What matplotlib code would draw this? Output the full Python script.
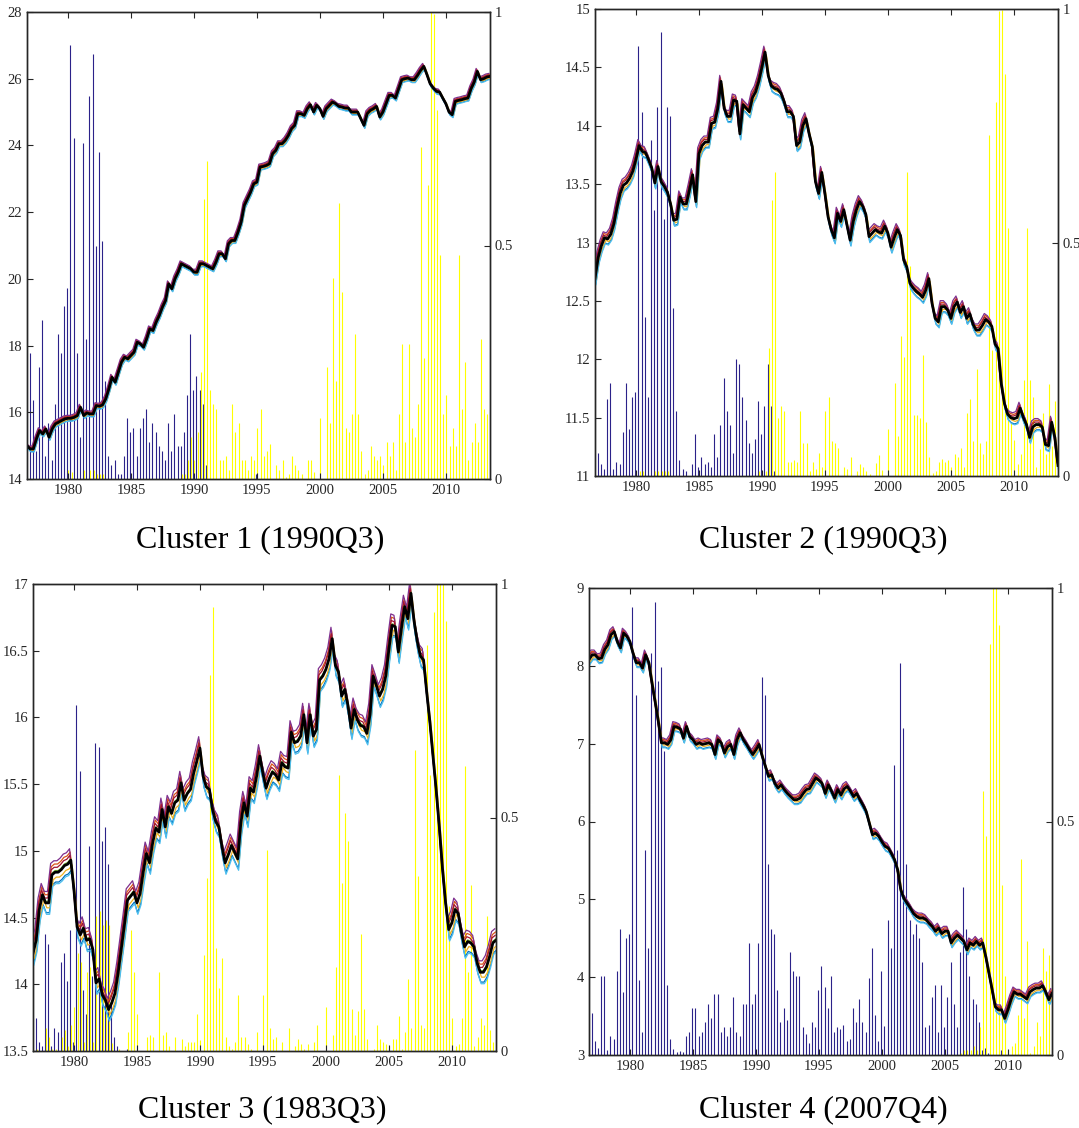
import numpy as np
import matplotlib
matplotlib.use("Agg")
import matplotlib.pyplot as plt

# quarterly dates, 1976Q4 .. 2013Q3 (148 quarters)
quarters = np.arange(1976.75, 2013.51, 0.25)

titles = ["Cluster 1 (1990Q3)", "Cluster 2 (1990Q3)", "Cluster 3 (1983Q3)", "Cluster 4 (2007Q4)"]

line1 = [15.0, 14.9, 14.9, 15.2, 15.45, 15.35, 15.5, 15.25, 15.5, 15.65, 15.7, 15.75, 15.8, 15.82, 15.82, 15.85,
         15.9, 16.15, 15.9, 15.98, 15.95, 15.95, 16.2, 16.18, 16.22, 16.4, 16.7, 17.05, 16.9, 17.2, 17.5, 17.65,
         17.6, 17.7, 17.8, 18.1, 18.05, 17.95, 18.2, 18.5, 18.45, 18.7, 18.9, 19.15, 19.35, 19.85, 19.7, 20.0,
         20.2, 20.45, 20.4, 20.35, 20.3, 20.2, 20.2, 20.45, 20.45, 20.4, 20.35, 20.3, 20.5, 20.75, 20.75, 20.6,
         21.05, 21.15, 21.15, 21.4, 21.7, 22.2, 22.4, 22.6, 22.85, 22.9, 23.35, 23.37, 23.4, 23.45, 23.75, 23.85,
         24.05, 24.05, 24.15, 24.3, 24.5, 24.6, 24.95, 24.95, 24.9, 25.1, 25.22, 25.0, 25.2, 25.1, 24.87, 25.1,
         25.2, 25.3, 25.25, 25.17, 25.15, 25.12, 25.12, 25.0, 25.0, 25.0, 24.8, 24.6, 24.95, 25.05, 25.1, 25.17,
         24.85, 25.0, 25.25, 25.5, 25.5, 25.42, 25.7, 25.97, 26.0, 26.02, 25.97, 25.97, 26.1, 26.25, 26.37, 26.12,
         25.85, 25.72, 25.62, 25.6, 25.42, 25.25, 25.0, 24.92, 25.32, 25.35, 25.37, 25.4, 25.42, 25.7, 25.9, 26.22,
         25.97, 26.0, 26.05, 26.07]
blue1 = [0, .27, .17, .06, .24, .34, .05, .12, .04, .16, .31, .27, .37, .41, .93, .73,
         .27, .09, .72, .30, .82, .91, .50, .70, .51, .21, .05, .03, .04, .01, .01, .05,
         .13, .10, .11, .05, .11, .13, .15, .08, .12, .10, .07, .06, .04, .12, .06, .14,
         .07, .07, .10, .18, .31, .19, .22, .19, .16, .03, 0, 0, 0, 0, 0, 0,
         0, 0, 0, 0, 0, 0, 0, 0, 0, .01, 0, 0, 0, 0, 0, 0,
         0, 0, 0, 0, 0, 0, 0, 0, 0, 0, 0, 0, 0, 0, 0, 0,
         0, 0, 0, 0, 0, 0, 0, 0, 0, 0, 0, 0, 0, 0, 0, 0,
         0, 0, 0, 0, 0, 0, 0, 0, 0, 0, 0, 0, 0, 0, 0, 0,
         0, 0, 0, 0, 0, 0, 0, 0, 0, 0, 0, 0, 0, 0, 0, 0,
         0, 0, 0, 0]
yellow1 = [0, 0, 0, 0, 0, 0, 0, 0, 0, 0, 0, 0, 0, .02, .015, 0,
           0, 0, .02, 0, .02, .02, .01, .01, .01, 0, 0, 0, 0, 0, 0, 0,
           0, 0, 0, 0, 0, 0, 0, 0, 0, 0, 0, 0, 0, 0, 0, 0,
           0, .01, .01, .04, .09, .04, .10, .23, .60, .68, .19, .16, .15, .04, .04, .05,
           .02, .16, .10, .12, .04, .04, .02, .05, .04, .11, .15, .05, .06, .075, 0, .03,
           .02, .04, .005, .01, .05, .03, .02, .01, 0, .04, .04, .015, 0, .13, 0, .24,
           .12, .43, .21, .59, .40, .11, .10, .14, .31, .14, .06, .01, .02, .07, .05, .04,
           .05, .03, .08, .05, .08, .02, .14, .29, .08, .29, .11, .09, .16, .71, .26, .63,
           1.0, .995, .79, .48, .14, .18, .07, .11, .07, .48, .15, .25, .04, .08, .12, .08,
           .30, .15, .14, 0]

line2 = [12.69, 12.87, 12.97, 13.04, 13.03, 13.07, 13.16, 13.30, 13.42, 13.49, 13.51, 13.55, 13.61, 13.71, 13.83, 13.78,
         13.77, 13.71, 13.64, 13.51, 13.65, 13.52, 13.48, 13.43, 13.33, 13.19, 13.20, 13.39, 13.33, 13.33, 13.45, 13.58,
         13.35, 13.76, 13.83, 13.86, 13.86, 14.02, 14.03, 14.15, 14.38, 14.15, 14.08, 14.08, 14.22, 14.21, 13.93, 14.18,
         14.15, 14.12, 14.24, 14.29, 14.38, 14.50, 14.63, 14.43, 14.34, 14.32, 14.31, 14.28, 14.21, 14.12, 14.12, 14.08,
         13.83, 13.86, 14.00, 14.06, 13.93, 13.82, 13.52, 13.42, 13.60, 13.42, 13.22, 13.11, 13.04, 13.25, 13.18, 13.28,
         13.15, 13.02, 13.18, 13.28, 13.35, 13.31, 13.24, 13.05, 13.08, 13.11, 13.09, 13.08, 13.14, 13.08, 12.96, 13.04,
         13.11, 13.06, 12.85, 12.79, 12.65, 12.61, 12.58, 12.56, 12.53, 12.59, 12.69, 12.48, 12.35, 12.32, 12.45, 12.45,
         12.42, 12.35, 12.45, 12.49, 12.40, 12.45, 12.35, 12.39, 12.30, 12.25, 12.25, 12.29, 12.34, 12.32, 12.28, 12.13,
         12.09, 11.79, 11.62, 11.53, 11.50, 11.49, 11.50, 11.58, 11.50, 11.44, 11.33, 11.42, 11.44, 11.44, 11.42, 11.27,
         11.26, 11.46, 11.33, 11.09]
blue2 = [0, .05, .025, .015, .165, .20, .015, .03, .025, .095, .20, .10, .17, .18, .92, .78,
         .34, .17, .72, .57, .79, .95, .55, .79, .77, .36, .14, .035, .015, .01, 0, .025,
         .09, .02, .04, .025, .03, .02, .09, .04, .11, .21, .14, .11, .05, .25, .24, .17,
         .12, .07, .05, .08, .16, .09, .15, .24, .15, .01, 0, 0, 0, 0, 0, 0,
         0, 0, 0, 0, 0, 0, 0, 0, 0, 0, 0, 0, 0, 0, 0, 0,
         0, 0, 0, 0, 0, 0, 0, 0, 0, 0, 0, 0, 0, 0, 0, 0,
         0, 0, 0, 0, 0, 0, 0, 0, 0, 0, 0, 0, 0, 0, 0, 0,
         0, 0, 0, 0, 0, 0, 0, 0, 0, 0, 0, 0, 0, 0, 0, 0,
         0, 0, 0, 0, 0, 0, 0, 0, 0, 0, 0, 0, 0, 0, 0, 0,
         0, 0, 0, 0]
yellow2 = [0, 0, 0, 0, 0, 0, 0, 0, 0, 0, 0, 0, 0, .01, .01, .01,
           0, 0, 0, .01, .01, .01, .01, .01, 0, 0, 0, 0, 0, 0, 0, 0,
           0, 0, 0, 0, 0, 0, 0, 0, 0, 0, 0, 0, 0, 0, 0, 0,
           0, 0, 0, 0, .01, .01, .01, .275, .59, .65, .125, .15, .14, .03, .03, .035,
           .03, .14, .07, .07, .01, .03, .015, .05, .02, .14, .17, .075, .07, .06, 0, .02,
           .015, .04, 0, .01, .025, .02, .01, .005, 0, .027, .045, .012, 0, .10, 0, .20,
           .085, .30, .255, .65, .45, .13, .13, .125, .26, .115, .04, .007, .01, .03, .036, .03,
           .034, .02, .047, .04, .06, .02, .134, .165, .075, .23, .07, .047, .074, .73, .27, .80,
           .996, .998, .86, .53, .115, .077, .026, .047, .205, .53, .205, .17, .02, .057, .135, .047,
           .196, .064, .16, 0]

line3 = [14.23, 14.33, 14.56, 14.67, 14.61, 14.61, 14.82, 14.84, 14.84, 14.86, 14.89, 14.90, 14.93, 14.71, 14.43, 14.37,
         14.42, 14.33, 14.34, 14.26, 14.01, 14.04, 13.92, 13.88, 13.81, 13.86, 13.93, 14.08, 14.26, 14.44, 14.63, 14.66,
         14.69, 14.61, 14.68, 14.84, 14.98, 14.91, 15.06, 15.17, 15.14, 15.31, 15.18, 15.33, 15.28, 15.36, 15.38, 15.51,
         15.38, 15.43, 15.46, 15.58, 15.67, 15.77, 15.56, 15.48, 15.46, 15.31, 15.22, 15.18, 15.03, 14.91, 14.97, 15.04,
         14.99, 14.94, 15.21, 15.36, 15.26, 15.47, 15.44, 15.56, 15.71, 15.58, 15.47, 15.54, 15.59, 15.57, 15.53, 15.66,
         15.63, 15.62, 15.89, 15.81, 15.82, 15.86, 16.02, 15.81, 16.02, 15.86, 15.91, 16.28, 16.31, 16.36, 16.44, 16.59,
         16.39, 16.34, 16.16, 16.21, 16.09, 15.92, 16.06, 15.98, 15.94, 15.93, 15.88, 16.02, 16.31, 16.24, 16.16, 16.21,
         16.31, 16.51, 16.69, 16.68, 16.49, 16.67, 16.83, 16.74, 16.93, 16.72, 16.57, 16.46, 16.43, 16.19, 15.97, 15.71,
         15.46, 15.18, 14.87, 14.61, 14.41, 14.46, 14.56, 14.53, 14.39, 14.28, 14.32, 14.31, 14.28, 14.16, 14.09, 14.09,
         14.13, 14.21, 14.31, 14.33]
blue3 = [0, .07, .02, .01, .25, .23, .01, .05, .04, .19, .21, .15, .26, .02, .74, .60,
         .13, .08, .44, .16, .66, .65, .45, .48, .40, .10, .03, .01, 0, 0, .005, 0,
         0, 0, 0, 0, 0, 0, 0, 0, 0, 0, 0, 0, 0, 0, 0, 0,
         0, 0, 0, 0, 0, 0, 0, 0, 0, 0, 0, 0, 0, 0, 0, 0,
         0, 0, 0, 0, 0, 0, 0, 0, 0, 0, 0, 0, 0, 0, 0, 0,
         0, 0, 0, 0, 0, 0, 0, 0, 0, 0, 0, 0, 0, 0, 0, 0,
         0, 0, 0, 0, 0, 0, 0, 0, 0, 0, 0, 0, 0, 0, 0, 0,
         0, 0, 0, 0, 0, 0, 0, 0, 0, 0, 0, 0, 0, 0, 0, 0,
         0, 0, 0, 0, 0, 0, 0, 0, 0, 0, 0, 0, 0, 0, 0, 0,
         0, 0, 0, 0]
yellow3 = [0, .005, 0, 0, .05, .03, .005, .005, 0, .03, .046, .01, .055, .094, .21, .19,
           .02, .17, .18, .02, .29, .30, .27, .28, .27, .017, 0, .005, 0, 0, .04, .26,
           .17, .08, 0, 0, .03, .035, .03, 0, .17, .035, .04, .01, 0, .03, 0, .025,
           .01, .02, .02, .02, .08, .023, .205, .37, .805, .95, .22, .135, .20, .03, .01, .005,
           .02, .12, .03, .03, .015, .005, 0, .04, 0, .12, .43, .05, .025, .03, 0, .02,
           0, .05, 0, .01, .025, .015, .005, .015, 0, .02, .055, 0, 0, .095, 0, .035,
           .18, .59, .36, .51, .45, .09, .035, .085, .25, .09, .025, 0, .005, .055, .025, .02,
           .015, .01, .025, .025, .075, .005, .04, .155, .05, .645, .375, .055, .05, .87, .59, .94,
           1.0, 1.0, 1.0, .92, .31, .07, .01, .015, .07, .61, .17, .355, .01, .03, .07, .055,
           .29, .045, .02, 0]

line4 = [8.08, 8.14, 8.14, 8.09, 8.10, 8.21, 8.27, 8.40, 8.44, 8.31, 8.23, 8.42, 8.38, 8.31, 8.16, 8.04,
         8.04, 7.97, 8.14, 8.04, 7.78, 7.54, 7.29, 7.01, 7.01, 6.99, 7.05, 7.22, 7.21, 7.19, 7.07, 7.22,
         7.09, 7.05, 6.99, 7.01, 6.99, 7.00, 7.01, 6.99, 6.86, 7.05, 7.01, 6.88, 6.96, 6.99, 6.86, 7.05,
         7.14, 7.05, 6.99, 6.92, 6.86, 6.92, 6.99, 6.84, 6.71, 6.58, 6.60, 6.49, 6.43, 6.47, 6.41, 6.36,
         6.32, 6.28, 6.28, 6.30, 6.36, 6.41, 6.42, 6.49, 6.56, 6.53, 6.49, 6.36, 6.47, 6.39, 6.30, 6.41,
         6.34, 6.42, 6.45, 6.39, 6.32, 6.36, 6.28, 6.21, 6.13, 5.98, 5.83, 5.85, 5.81, 5.74, 5.68, 5.66,
         5.59, 5.51, 5.38, 5.12, 5.01, 4.95, 4.89, 4.82, 4.78, 4.76, 4.76, 4.74, 4.69, 4.65, 4.59, 4.63,
         4.56, 4.59, 4.59, 4.44, 4.50, 4.54, 4.50, 4.46, 4.35, 4.44, 4.41, 4.46, 4.41, 4.44, 4.26, 4.05,
         3.84, 3.62, 3.58, 3.58, 3.47, 3.58, 3.71, 3.81, 3.78, 3.78, 3.75, 3.72, 3.81, 3.84, 3.86, 3.86,
         3.89, 3.81, 3.71, 3.79]
blue4 = [0, .09, .03, .015, .17, .17, .01, .04, .035, .18, .27, .135, .25, .26, .96, .77,
         .16, .05, .44, .23, .86, .97, .80, .83, .65, .15, .035, .012, .007, .009, .007, .04,
         .05, .10, .10, .04, .05, .07, .11, .08, .13, .13, .05, .06, .04, .06, .125, .05,
         .04, .11, .11, .24, .11, .13, .24, .81, .77, .41, .27, .26, .14, .07, .10, .075,
         .22, .18, .17, .17, .06, .045, .025, .07, .06, .14, .19, .145, .10, .17, .05, .06,
         .055, .065, .03, .035, .10, .07, .12, .07, .05, .165, .23, .085, .03, .18, .063, .29,
         .23, .62, .44, .84, .70, .41, .29, .26, .28, .25, .20, .06, .065, .125, .15, .05,
         .15, .06, .125, .20, .11, .06, .22, .36, .27, .17, .12, .11, .07, .01, .015, .005,
         0, 0, 0, .01, 0, 0, 0, 0, 0, 0, 0, 0, 0, 0, 0, 0,
         0, 0, 0, 0]
yellow4 = [0, 0, 0, 0, 0, 0, 0, 0, 0, 0, 0, 0, 0, 0, 0, 0,
           0, 0, 0, 0, 0, 0, 0, 0, 0, 0, 0, 0, 0, 0, 0, 0,
           0, 0, 0, 0, 0, 0, 0, 0, 0, 0, 0, 0, 0, 0, 0, 0,
           0, 0, 0, 0, 0, 0, 0, 0, 0, 0, 0, 0, 0, 0, 0, 0,
           0, 0, 0, 0, 0, 0, 0, 0, 0, 0, 0, 0, 0, 0, 0, 0,
           0, 0, 0, 0, 0, 0, 0, 0, 0, 0, 0, 0, 0, 0, 0, 0,
           0, 0, 0, 0, 0, 0, 0, 0, 0, 0, 0, 0, 0, 0, 0, 0,
           0, 0, 0, 0, 0, 0, .005, .01, .01, .01, .02, .01, .06, .565, .47, .88,
           1.0, 1.0, .92, .365, .17, .01, .02, .025, .085, .42, .08, .245, .005, .02, .07, .04,
           .23, .18, .215, 0]

panels = [
    (line1, blue1, yellow1, (14, 28), np.arange(14, 28.1, 2), ["%d" % v for v in range(14, 29, 2)]),
    (line2, blue2, yellow2, (11, 15), np.arange(11, 15.01, 0.5), ["11", "11.5", "12", "12.5", "13", "13.5", "14", "14.5", "15"]),
    (line3, blue3, yellow3, (13.5, 17), np.arange(13.5, 17.01, 0.5), ["13.5", "14", "14.5", "15", "15.5", "16", "16.5", "17"]),
    (line4, blue4, yellow4, (3, 9), np.arange(3, 9.1, 1), ["%d" % v for v in range(3, 10)]),
]

# axes rectangles in pixels: left, right, top, bottom
W, H = 1079, 1128
rects_px = [(27, 490, 12, 479), (595, 1058, 9, 476), (33, 496, 584, 1051), (589, 1052, 588, 1055)]
title_pos = [(260, 540), (823, 540), (262, 1110), (823, 1110)]

# MATLAB default line colours for the ensemble draws (drawn as a thin halo)
ens_colors = ['#0072BD', '#D95319', '#EDB120', '#7E2F8E', '#77AC30', '#4DBEEE', '#A2142F']
ens_shift = [-0.03, 0.025, -0.015, 0.035, 0.005, -0.035, 0.015]
ens_dx = [0.05, -0.05, 0.1, -0.1, 0.0, 0.07, -0.07]
ens_width = [0.18, 0.37, 0.7, 0.3]   # halo width per panel, fraction of y-range

plt.rcParams['font.family'] = ['Liberation Serif', 'DejaVu Serif']

fig = plt.figure(figsize=(W / 100, H / 100), dpi=100)

for k, (yl, bl, yw, ylim, yt, ytl) in enumerate(panels):
    l, r, t, b = rects_px[k]
    ax = fig.add_axes([l / W, 1 - b / H, (r - l) / W, (b - t) / H])
    axb = ax.twinx()

    axb.vlines(quarters - 0.05, 0, bl, colors='#2b2289', lw=0.8)
    axb.vlines(quarters + 0.04, 0, yw, colors='#ffff00', lw=0.8)
    axb.set_ylim(0, 1)
    axb.set_yticks([0, 0.5, 1])
    axb.set_yticklabels(['0', '0.5', '1'])

    y = np.array(yl)
    span = ylim[1] - ylim[0]
    for c, s, dx in zip(ens_colors, ens_shift, ens_dx):
        ax.plot(quarters + dx, y + s * span * ens_width[k], color=c, lw=0.9)
    ax.plot(quarters, y, color='black', lw=2.0)

    ax.set_zorder(axb.get_zorder() + 1)
    ax.patch.set_visible(False)

    ax.set_xlim(quarters[0], quarters[-1])
    ax.set_ylim(*ylim)
    ax.set_yticks(yt)
    ax.set_yticklabels(ytl)
    ax.set_xticks([1980, 1985, 1990, 1995, 2000, 2005, 2010])
    ax.set_xticklabels(['1980', '1985', '1990', '1995', '2000', '2005', '2010'])

    for a in (ax, axb):
        a.tick_params(direction='in', length=4, width=0.8, labelsize=10.5,
                      colors='#262626', top=True)
        for sp in a.spines.values():
            sp.set_color('#262626')
            sp.set_linewidth(1.0)

    tx, ty = title_pos[k]
    fig.text(tx / W, 1 - ty / H, titles[k], ha='center', va='center', fontsize=23,
             color='black')

fig.savefig('out.png', dpi=100)
